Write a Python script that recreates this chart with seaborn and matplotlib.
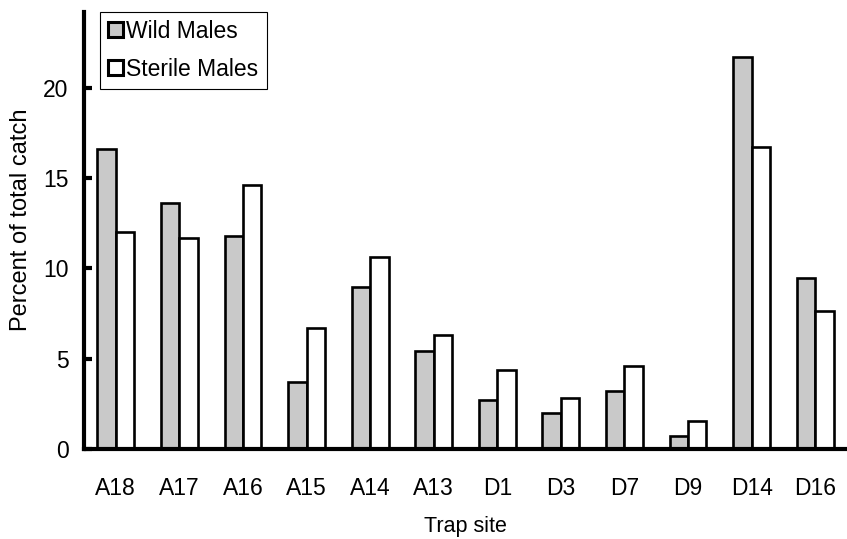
import numpy as np
import pandas as pd
import matplotlib
matplotlib.use("Agg")
import matplotlib.pyplot as plt
import seaborn as sns

sites = ["A18", "A17", "A16", "A15", "A14", "A13", "D1", "D3", "D7", "D9", "D14", "D16"]
wild = [16.6, 13.6, 11.8, 3.7, 8.95, 5.4, 2.7, 2.0, 3.2, 0.7, 21.7, 9.45]
sterile = [12.0, 11.7, 14.6, 6.7, 10.65, 6.3, 4.4, 2.8, 4.6, 1.55, 16.7, 7.65]
groups = ["Wild Males", "Sterile Males"]

df = pd.DataFrame({
    "site": sites * 2,
    "pct": wild + sterile,
    "group": [groups[0]] * len(sites) + [groups[1]] * len(sites),
})

sns.set_style("white")
plt.rcParams["font.family"] = ["Liberation Sans", "DejaVu Sans"]
plt.rcParams.update({"text.color": "black", "axes.labelcolor": "black",
                     "xtick.color": "black", "ytick.color": "black"})

fig = plt.figure(figsize=(8.47, 5.39), dpi=100)
ax = fig.add_axes([0.0992, 0.167, 0.9008, 0.811])

sns.barplot(data=df, x="site", y="pct", hue="group", order=sites, hue_order=groups,
            palette={"Wild Males": "#c9c9c9", "Sterile Males": "white"},
            edgecolor="black", linewidth=1.9, width=0.58, gap=0, ax=ax)

ax.set_xlim(-0.5, 11.5)
ax.set_ylim(0, 24.2)
ax.set_yticks([0, 5, 10, 15, 20])

sns.despine(ax=ax)
for s in ["left", "bottom"]:
    ax.spines[s].set_linewidth(3)
    ax.spines[s].set_color("black")

ax.set_xticks(np.arange(-0.5, 12, 1), minor=True)
ax.tick_params(axis="x", which="major", length=0, pad=20, labelsize=16.5)
ax.tick_params(axis="x", which="minor", direction="out", length=7, width=3, color="black")
ax.tick_params(axis="y", direction="in", length=6, width=3, color="black", pad=11, labelsize=16.5, left=True)

ax.set_xlabel("Trap site", fontsize=15.5, labelpad=12)
ax.set_ylabel("Percent of total catch", fontsize=17)
ax.yaxis.set_label_coords(-0.068, 0.524)

leg = ax.legend(loc="upper left", bbox_to_anchor=(0.021, 1.0), fontsize=16.5,
                frameon=True, fancybox=False, edgecolor="black", framealpha=1,
                handlelength=0.65, handleheight=0.65, handletextpad=0.15,
                borderpad=0.35, labelspacing=0.65, borderaxespad=0)
leg.get_frame().set_linewidth(0.8)
for h in leg.legend_handles:
    h.set_linewidth(2.2)

fig.savefig("out.png", dpi=100)
